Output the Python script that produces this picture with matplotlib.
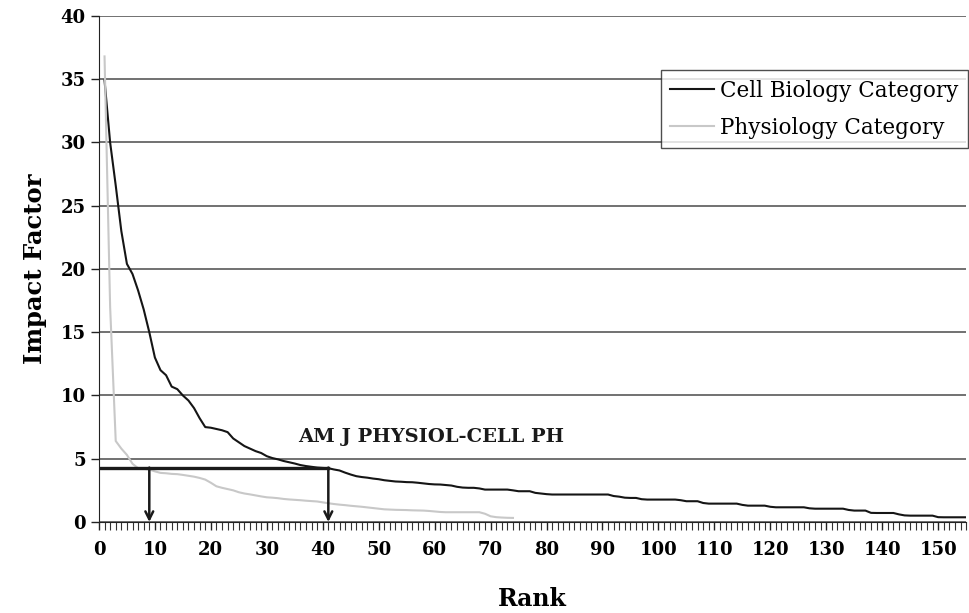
import numpy as np
import matplotlib.pyplot as plt

# Impact factor by rank
cell_biology = [34.9, 30.0, 26.6, 23.0, 20.4, 19.6, 18.3, 16.8, 15.0, 13.0,
                12.0, 11.6, 10.7, 10.5, 10.0, 9.6, 9.0, 8.2, 7.5, 7.45,
                7.35, 7.25, 7.1, 6.6, 6.3, 6.0, 5.8, 5.6, 5.45, 5.2,
                5.05, 4.95, 4.82, 4.72, 4.62, 4.5, 4.42, 4.36, 4.3, 4.27,
                4.25, 4.15, 4.07, 3.9, 3.75, 3.62, 3.55, 3.5, 3.43, 3.38,
                3.3, 3.25, 3.2, 3.18, 3.15, 3.14, 3.1, 3.05, 3.0, 2.97,
                2.96, 2.92, 2.88, 2.78, 2.72, 2.7, 2.7, 2.65, 2.56, 2.56,
                2.56, 2.56, 2.56, 2.5, 2.43, 2.43, 2.43, 2.3, 2.25, 2.2,
                2.17, 2.17, 2.17, 2.17, 2.17, 2.17, 2.17, 2.17, 2.17, 2.17,
                2.17, 2.05, 2.0, 1.92, 1.9, 1.9, 1.8, 1.77, 1.77, 1.77,
                1.77, 1.77, 1.77, 1.72, 1.64, 1.64, 1.64, 1.5, 1.45, 1.45,
                1.45, 1.45, 1.45, 1.45, 1.35, 1.29, 1.29, 1.29, 1.29, 1.2,
                1.16, 1.16, 1.16, 1.16, 1.16, 1.16, 1.08, 1.05, 1.05, 1.05,
                1.05, 1.05, 1.05, 0.95, 0.9, 0.9, 0.9, 0.72, 0.71, 0.71,
                0.71, 0.71, 0.6, 0.52, 0.5, 0.5, 0.5, 0.5, 0.5, 0.38,
                0.37, 0.37, 0.37, 0.37, 0.37]

physiology = [36.8, 17.0, 6.4, 5.8, 5.3, 4.6, 4.25, 4.2, 4.15, 4.0,
              3.88, 3.85, 3.8, 3.78, 3.72, 3.65, 3.58, 3.48, 3.35, 3.1,
              2.82, 2.7, 2.6, 2.5, 2.35, 2.25, 2.18, 2.1, 2.02, 1.95,
              1.92, 1.88, 1.82, 1.78, 1.75, 1.72, 1.68, 1.65, 1.62, 1.55,
              1.48, 1.42, 1.37, 1.33, 1.28, 1.24, 1.2, 1.15, 1.1, 1.05,
              1.0, 0.98, 0.96, 0.95, 0.94, 0.92, 0.91, 0.9, 0.87, 0.83,
              0.79, 0.77, 0.77, 0.77, 0.77, 0.77, 0.77, 0.77, 0.65, 0.45,
              0.38, 0.35, 0.33, 0.32]

journal_name = 'AM J PHYSIOL-CELL PH'
journal_if = 4.3
rank_in_physiology = 9
rank_in_cell_biology = 41

plt.rcParams['font.family'] = ['DejaVu Serif']

fig = plt.figure(figsize=(9.7, 6.13), dpi=100)
ax = fig.add_axes([0.102, 0.1485, 0.894, 0.8255])

ax.set_axisbelow(True)
ax.yaxis.grid(True, color='#4a4a4a', linewidth=1.1)

rank_cb = np.arange(1, len(cell_biology) + 1)
rank_ph = np.arange(1, len(physiology) + 1)
ax.plot(rank_cb, cell_biology, color='#151515', linewidth=1.5, label='Cell Biology Category')
ax.plot(rank_ph, physiology, color='#c8c8c8', linewidth=1.5, label='Physiology Category')

# journal marker: horizontal line and arrows down to its ranks
ax.plot([0, rank_in_cell_biology], [journal_if, journal_if], color='#1a1a1a', linewidth=2.4)
for r in (rank_in_physiology, rank_in_cell_biology):
    ax.annotate('', xy=(r, 0), xytext=(r, journal_if),
                arrowprops=dict(arrowstyle='->', color='#1a1a1a', linewidth=1.8,
                                mutation_scale=14, shrinkA=0, shrinkB=0))
ax.text(35.6, 6.75, journal_name, fontsize=14, fontweight='bold', color='#1a1a1a',
        va='center')

ax.set_xlim(0, 155)
ax.set_ylim(0, 40)
ax.set_xticks(np.arange(0, 151, 10))
ax.set_xticks(np.arange(0, 156, 1), minor=True)
ax.set_yticks(np.arange(0, 41, 5))
ax.tick_params(axis='both', which='major', length=6, width=1, color='#222',
               labelsize=13)
ax.tick_params(axis='x', which='minor', length=6, width=0.8, color='#333')
ax.tick_params(axis='x', pad=8)
for lab in ax.get_xticklabels() + ax.get_yticklabels():
    lab.set_fontweight('bold')

ax.spines['top'].set_visible(False)
ax.spines['right'].set_visible(False)
ax.spines['left'].set_color('#222')
ax.spines['bottom'].set_color('#222')

ax.set_xlabel('Rank', fontsize=17, fontweight='bold', labelpad=20)
ax.set_ylabel('Impact Factor', fontsize=17.5, fontweight='bold', labelpad=10)

leg = ax.legend(loc='upper right', bbox_to_anchor=(0.998, 0.886),
                bbox_transform=fig.transFigure, fontsize=15.5, frameon=True,
                fancybox=False, edgecolor='#222', handlelength=2.0,
                handletextpad=0.3, borderpad=0.45, labelspacing=0.7,
                borderaxespad=0)
leg.get_frame().set_linewidth(1.0)

fig.savefig('out.png', dpi=100)
